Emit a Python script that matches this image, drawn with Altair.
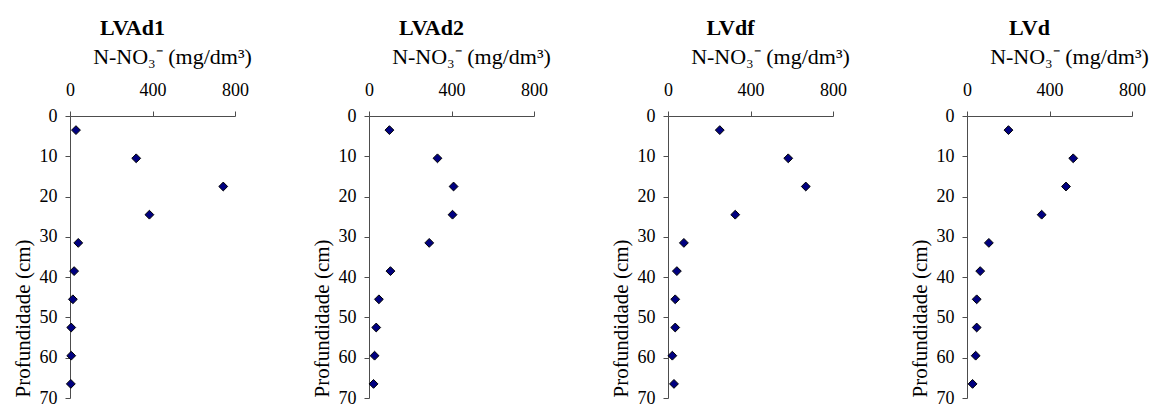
import altair as alt
import pandas as pd

depth = [3.5, 10.5, 17.5, 24.5, 31.5, 38.5, 45.5, 52.5, 59.5, 66.5]
names = ["LVAd1", "LVAd2", "LVdf", "LVd"]
lvad1 = [29, 321, 743, 385, 40, 20, 14, 6, 6, 4]
lvad2 = [99, 332, 410, 405, 292, 104, 48, 35, 27, 22]
lvdf = [251, 583, 668, 326, 77, 43, 35, 35, 21, 29]
lvd = [201, 515, 480, 362, 106, 64, 47, 47, 42, 27]
series = [lvad1, lvad2, lvdf, lvd]
x_ticks = [0, 400, 800]
y_ticks = [0, 10, 20, 30, 40, 50, 60, 70]

FONT = "Liberation Serif"
AXIS_COLOR = "#4d4d4d"


def panel(name, vals):
    df = pd.DataFrame({"n": vals, "depth": depth})
    return (
        alt.Chart(
            df,
            title=alt.TitleParams(
                name,
                font=FONT,
                fontSize=22,
                fontWeight="bold",
                color="black",
                anchor="middle",
                baseline="alphabetic",
                dx=-20,
                offset=-12,
            ),
        )
        .mark_point(
            shape="diamond",
            filled=True,
            fill="#000080",
            stroke="black",
            strokeWidth=1,
            size=78,
            opacity=1,
        )
        .encode(
            x=alt.X(
                "n:Q",
                scale=alt.Scale(domain=[0, 800], nice=False),
                axis=alt.Axis(
                    orient="top",
                    values=x_ticks,
                    title="N-NO₃⁻ (mg/dm³)",
                    titleFont=FONT,
                    titleFontSize=22,
                    titleFontWeight="normal",
                    titleColor="black",
                    titleX=102,
                    titleY=-53,
                    titleAlign="center",
                    titleBaseline="alphabetic",
                    labelFont=FONT,
                    labelFontSize=18,
                    labelColor="black",
                    labelBaseline="alphabetic",
                    labelPadding=16,
                    labelFlush=False,
                    tickSize=5,
                    tickColor=AXIS_COLOR,
                    domainColor=AXIS_COLOR,
                    grid=False,
                ),
            ),
            y=alt.Y(
                "depth:Q",
                scale=alt.Scale(domain=[0, 70], reverse=True, nice=False),
                axis=alt.Axis(
                    values=y_ticks,
                    title="Profundidade (cm)",
                    titleFont=FONT,
                    titleFontSize=21,
                    titleFontWeight="normal",
                    titleColor="black",
                    titleAngle=270,
                    titleAlign="left",
                    titleBaseline="alphabetic",
                    titleX=-41,
                    titleY=281,
                    labelFont=FONT,
                    labelFontSize=18,
                    labelColor="black",
                    labelPadding=8,
                    labelFlush=False,
                    tickSize=5,
                    tickColor=AXIS_COLOR,
                    domainColor=AXIS_COLOR,
                    grid=False,
                ),
            ),
        )
        .properties(width=165, height=282)
    )


chart = (
    alt.hconcat(*[panel(n, v) for n, v in zip(names, series)], spacing=134, bounds="flush")
    .properties(padding={"left": 12, "top": 17, "right": 5, "bottom": 5}, background="white")
    .configure_view(stroke=None)
)

chart.save("out.html", embed_options={"renderer": "svg", "actions": False})
